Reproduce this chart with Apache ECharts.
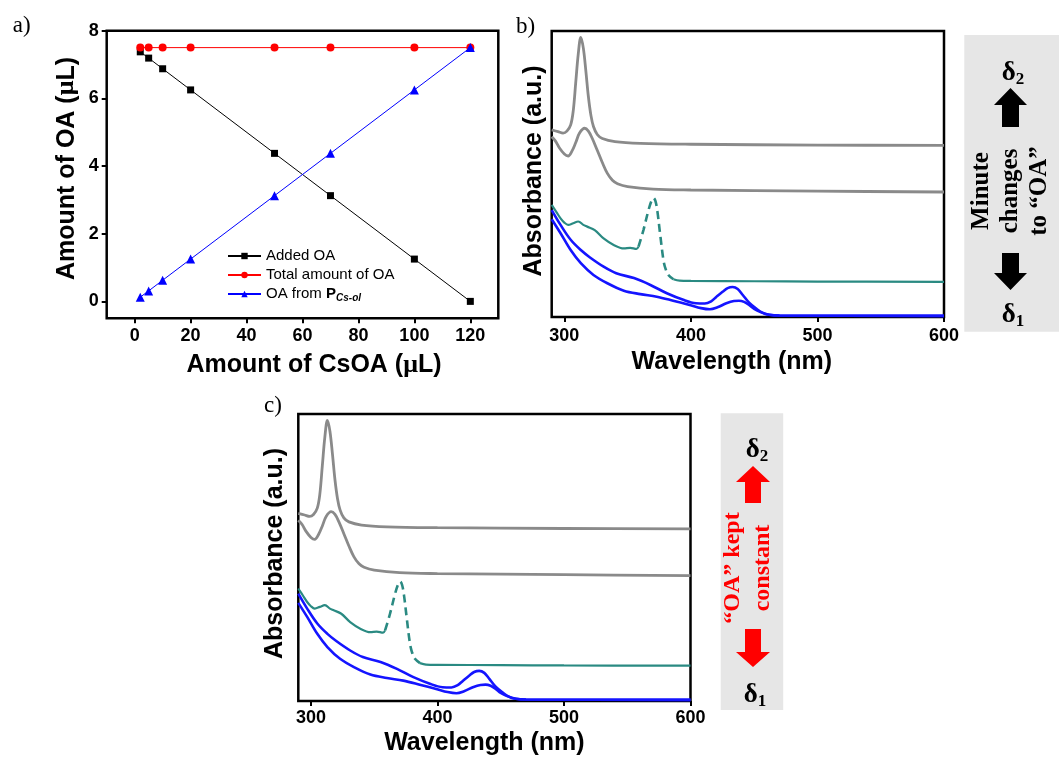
<!DOCTYPE html>
<html>
<head>
<meta charset="utf-8">
<script src="https://cdn.jsdelivr.net/npm/echarts@6/dist/echarts.min.js"></script>
<style>
  html, body { margin: 0; padding: 0; background: #fff; }
  #chart { width: 1059px; height: 757px; }
</style>
</head>
<body>
<div id="chart"></div>
<script>
// ---- Panel a: oleic acid (OA) balance against the CsOA volume ----
const csoaVolume = [2, 5, 10, 20, 50, 70, 100, 120];
const addedOA = [7.375, 7.19, 6.875, 6.25, 4.375, 3.125, 1.25, 0];
const totalOA = [7.5, 7.5, 7.5, 7.5, 7.5, 7.5, 7.5, 7.5];
const oaFromP = [0.125, 0.31, 0.625, 1.25, 3.125, 4.375, 6.25, 7.5];
const xTicksA = [0, 20, 40, 60, 80, 100, 120];
const yTicksA = [0, 2, 4, 6, 8];

// ---- Panels b and c: stacked absorption spectra (a.u.) ----
const wlTicks = [300, 400, 500, 600];

const grayHighWl  = [290, 295, 299, 302, 305, 307, 309, 311, 313, 315, 317, 319, 321, 323, 326, 330, 340, 360, 400, 500, 600];
const grayHighAbs = [65.4, 64.8, 64.3, 65.0, 67.2, 72, 82, 92, 97.8, 94, 86, 77, 70.5, 66.6, 63.8, 62.4, 61.3, 60.7, 60.4, 60.1, 60.0];

const grayLowWl  = [290, 293, 296, 300, 303, 306, 309, 312, 316, 319, 322, 326, 330, 334, 338, 342, 350, 370, 400, 500, 600];
const grayLowAbs = [63.0, 61.5, 59.2, 57.0, 56.3, 58, 61, 64.3, 66.0, 65, 62.5, 58.3, 54, 50.2, 47.8, 46.6, 45.6, 44.7, 44.4, 44.0, 43.7];

const tealWl  = [290, 294, 297, 300, 303, 307, 311, 315, 318, 324, 331, 339, 347, 352, 357, 358.6];
const tealAbs = [39.2, 36.5, 34.5, 33.0, 32.2, 32.8, 33.4, 32.2, 31.6, 30.4, 27.5, 25.2, 24.0, 24.2, 23.8, 24.6];
const tealPeakWl  = [358.6, 362.5, 366.5, 369, 370.5, 372, 373.5, 375.6, 378.3, 380, 382.2, 386.2];
const tealPeakAbs = [24.6, 30.4, 37.4, 40.8, 41.6, 40.5, 37, 29.3, 19.9, 16.8, 14.7, 13.2];
const tealTailWl  = [386.2, 391, 400, 450, 500, 600];
const tealTailAbs = [13.2, 12.7, 12.6, 12.5, 12.4, 12.3];

const blueHighWl  = [290, 297, 305, 313, 320, 331, 341, 355, 368, 381, 394, 404, 411, 416, 420, 425, 429, 433, 437, 441, 446, 452, 456, 460, 470, 600];
const blueHighAbs = [37.4, 32.2, 27.0, 23.4, 20.9, 17.6, 15.3, 13.6, 11.2, 8.3, 6.0, 4.8, 4.7, 5.5, 7.0, 8.8, 10.1, 10.5, 9.8, 7.7, 5.0, 2.8, 1.6, 0.9, 0.5, 0.4];

const blueLowWl  = [290, 297, 305, 313, 323, 334, 347, 360, 373, 386, 399, 408, 415, 421, 428, 434, 438, 442, 446, 450, 455, 462, 470, 600];
const blueLowAbs = [34.2, 29.3, 23.4, 18.8, 14.7, 11.8, 9.2, 8.0, 7.1, 5.7, 4.2, 3.1, 2.7, 3.4, 4.8, 5.6, 5.7, 5.3, 4.2, 2.8, 1.7, 0.8, 0.5, 0.4];

const pairs = (xs, ys) => xs.map((x, i) => [x, ys[i]]);

const SANS = 'Liberation Sans, Arial, sans-serif';
const SERIF = 'Liberation Serif, Times New Roman, serif';
const GRAY = '#8a8a8a', TEAL = '#2a8a82', BLUE = '#1414ff';

const chart = echarts.init(document.getElementById('chart'), null, { renderer: 'canvas' });

const frame = { show: true, borderColor: '#000', borderWidth: 2.5, backgroundColor: 'transparent' };
const tickLabel = { fontFamily: SANS, fontWeight: 'bold', fontSize: 18, color: '#000' };
const titleStyle = (pad) => ({
  fontFamily: SANS, fontWeight: 'bold', fontSize: 25, color: '#000', padding: pad,
  rich: {
    a: { fontFamily: SANS, fontWeight: 'bold', fontSize: 25, color: '#000' },
    m: { fontFamily: SERIF, fontWeight: 'bold', fontSize: 26, color: '#000' }
  }
});

function spectrumXAxis(gridIndex, margin, gap, pad) {
  return {
    type: 'value', gridIndex, min: 290, max: 600,
    axisLine: { show: false, onZero: false },
    axisTick: { show: true, inside: false, length: 5, lineStyle: { color: '#000', width: 2 }, customValues: wlTicks },
    axisLabel: Object.assign({ customValues: wlTicks, margin }, tickLabel),
    splitLine: { show: false },
    name: 'Wavelength (nm)', nameLocation: 'middle', nameGap: gap,
    nameTextStyle: titleStyle(pad)
  };
}
function spectrumYAxis(gridIndex, gap, pad) {
  return {
    type: 'value', gridIndex, min: 0, max: 100,
    axisLine: { show: false, onZero: false }, axisTick: { show: false },
    axisLabel: { show: false }, splitLine: { show: false },
    name: 'Absorbance (a.u.)', nameLocation: 'middle', nameGap: gap,
    nameTextStyle: titleStyle(pad)
  };
}
function spectrumSeries(axisIndex) {
  const base = { type: 'line', xAxisIndex: axisIndex, yAxisIndex: axisIndex, showSymbol: false, smooth: 0.35, silent: true };
  return [
    Object.assign({}, base, { data: pairs(grayHighWl, grayHighAbs), lineStyle: { color: GRAY, width: 2.8 } }),
    Object.assign({}, base, { data: pairs(grayLowWl, grayLowAbs), lineStyle: { color: GRAY, width: 2.8 } }),
    Object.assign({}, base, { data: pairs(tealWl, tealAbs), lineStyle: { color: TEAL, width: 2.2 } }),
    Object.assign({}, base, { data: pairs(tealPeakWl, tealPeakAbs), lineStyle: { color: TEAL, width: 2.6, type: [8, 5] } }),
    Object.assign({}, base, { data: pairs(tealTailWl, tealTailAbs), lineStyle: { color: TEAL, width: 2.2 } }),
    Object.assign({}, base, { data: pairs(blueLowWl, blueLowAbs), lineStyle: { color: BLUE, width: 2.6 } }),
    Object.assign({}, base, { data: pairs(blueHighWl, blueHighAbs), lineStyle: { color: BLUE, width: 2.6 } })
  ];
}

// Up / down block arrows for the side panels
function arrowUp(cx, tip, base, bottom, headHalf, shaftHalf) {
  return [[cx, tip], [cx + headHalf, base], [cx + shaftHalf, base], [cx + shaftHalf, bottom],
          [cx - shaftHalf, bottom], [cx - shaftHalf, base], [cx - headHalf, base]];
}
function arrowDown(cx, top, base, tip, headHalf, shaftHalf) {
  return [[cx - shaftHalf, top], [cx + shaftHalf, top], [cx + shaftHalf, base], [cx + headHalf, base],
          [cx, tip], [cx - headHalf, base], [cx - shaftHalf, base]];
}
const deltaRich = {
  d: { fontFamily: SERIF, fontWeight: 'bold', fontSize: 27, lineHeight: 30, color: '#000' },
  s: { fontFamily: SERIF, fontWeight: 'bold', fontSize: 17, lineHeight: 17, color: '#000', verticalAlign: 'bottom' }
};
function deltaText(x, y, sub) {
  return { type: 'text', x, y, silent: true,
    style: { text: '{d|δ}{s|' + sub + '}', rich: deltaRich, align: 'center', verticalAlign: 'middle' } };
}
function panelLetter(x, y, t) {
  return { type: 'text', x, y, silent: true,
    style: { text: t, fontFamily: SERIF, fontSize: 23, fill: '#000', align: 'center', verticalAlign: 'middle' } };
}

const option = {
  backgroundColor: '#fff',
  animation: false,
  grid: [
    Object.assign({ left: 106.7, top: 30.7, width: 391.6, height: 287.6 }, frame),
    Object.assign({ left: 551.7, top: 31, width: 392.3, height: 286 }, frame),
    Object.assign({ left: 298.3, top: 414, width: 392.2, height: 288.7 }, frame)
  ],
  xAxis: [
    {
      type: 'value', gridIndex: 0, min: -10, max: 130,
      axisLine: { show: false, onZero: false },
      axisTick: { show: true, inside: false, length: 5, lineStyle: { color: '#000', width: 2 }, customValues: xTicksA },
      axisLabel: Object.assign({ customValues: xTicksA, margin: 9 }, tickLabel),
      splitLine: { show: false },
      name: '{a|Amount of CsOA (}{m|μ}{a|L)}', nameLocation: 'middle', nameGap: 34,
      nameTextStyle: titleStyle([0, 0, 0, 23])
    },
    spectrumXAxis(1, 10, 33, [0, 32, 0, 0]),
    spectrumXAxis(2, 8, 30, [0, 20, 0, 0])
  ],
  yAxis: [
    {
      type: 'value', gridIndex: 0, min: -0.5, max: 8,
      axisLine: { show: false, onZero: false },
      axisTick: { show: true, inside: false, length: 5, lineStyle: { color: '#000', width: 2 }, customValues: yTicksA },
      axisLabel: Object.assign({ customValues: yTicksA, margin: 8 }, tickLabel),
      splitLine: { show: false },
      name: '{a|Amount of OA (}{m|μ}{a|L)}', nameLocation: 'middle', nameGap: 27,
      nameTextStyle: titleStyle([0, 0, 0, 12])
    },
    spectrumYAxis(1, 5, [0, 0, 0, 6]),
    spectrumYAxis(2, 11, [0, 0, 0, 8])
  ],
  legend: {
    left: 227, top: 247, orient: 'vertical', padding: 0,
    itemWidth: 33, itemHeight: 8, itemGap: 1,
    data: ['Added OA', 'Total amount of OA', 'OA from P'],
    formatter: (name) => name === 'OA from P' ? '{t|OA from }{p|P}{s|Cs-ol}' : name,
    textStyle: {
      fontFamily: SANS, fontSize: 15, color: '#000', lineHeight: 18,
      rich: {
        t: { fontFamily: SANS, fontSize: 15, color: '#000', lineHeight: 18 },
        p: { fontFamily: SANS, fontSize: 15, fontWeight: 'bold', color: '#000', lineHeight: 18 },
        s: { fontFamily: SANS, fontSize: 10, fontWeight: 'bold', fontStyle: 'italic', color: '#000', lineHeight: 11, verticalAlign: 'bottom' }
      }
    }
  },
  series: [
    { name: 'Added OA', type: 'line', xAxisIndex: 0, yAxisIndex: 0, data: pairs(csoaVolume, addedOA),
      symbol: 'rect', symbolSize: 7, itemStyle: { color: '#000' }, lineStyle: { color: '#000', width: 1 } },
    { name: 'Total amount of OA', type: 'line', xAxisIndex: 0, yAxisIndex: 0, data: pairs(csoaVolume, totalOA),
      symbol: 'circle', symbolSize: 8, itemStyle: { color: '#ff0000' }, lineStyle: { color: '#ff0000', width: 1 } },
    { name: 'OA from P', type: 'line', xAxisIndex: 0, yAxisIndex: 0, data: pairs(csoaVolume, oaFromP),
      symbol: 'triangle', symbolSize: 9, itemStyle: { color: '#0000ff' }, lineStyle: { color: '#0000ff', width: 1 } }
  ].concat(spectrumSeries(1), spectrumSeries(2)),
  graphic: [
    panelLetter(21.7, 26, 'a)'),
    panelLetter(525.5, 26.5, 'b)'),
    panelLetter(273, 405.5, 'c)'),

    // side panel for b
    { type: 'rect', silent: true, shape: { x: 964.3, y: 35, width: 100, height: 296.7 }, style: { fill: '#e6e6e6' } },
    deltaText(1013, 73, '2'),
    { type: 'polygon', silent: true, shape: { points: arrowUp(1010.5, 88, 105, 127, 16.5, 8.5) }, style: { fill: '#000' } },
    { type: 'text', x: 1011, y: 191, rotation: Math.PI / 2, silent: true,
      style: { text: 'Minute\nchanges\nto “OA”', fontFamily: SERIF, fontWeight: 'bold', fontSize: 25, lineHeight: 29,
               fill: '#000', align: 'center', verticalAlign: 'middle' } },
    { type: 'polygon', silent: true, shape: { points: arrowDown(1010.5, 253, 273, 290, 16.5, 8.5) }, style: { fill: '#000' } },
    deltaText(1013, 315, '1'),

    // side panel for c
    { type: 'rect', silent: true, shape: { x: 720.7, y: 413.3, width: 62.5, height: 296.7 }, style: { fill: '#e6e6e6' } },
    deltaText(757, 450, '2'),
    { type: 'polygon', silent: true, shape: { points: arrowUp(753, 466, 482, 503, 17, 8) }, style: { fill: '#ff0000' } },
    { type: 'text', x: 748, y: 568, rotation: Math.PI / 2, silent: true,
      style: { text: '“OA” kept\nconstant', fontFamily: SERIF, fontWeight: 'bold', fontSize: 24, lineHeight: 30,
               fill: '#ff0000', align: 'center', verticalAlign: 'middle' } },
    { type: 'polygon', silent: true, shape: { points: arrowDown(753, 629, 652, 667, 17, 8) }, style: { fill: '#ff0000' } },
    deltaText(755, 695, '1')
  ]
};

chart.setOption(option);
</script>
</body>
</html>
